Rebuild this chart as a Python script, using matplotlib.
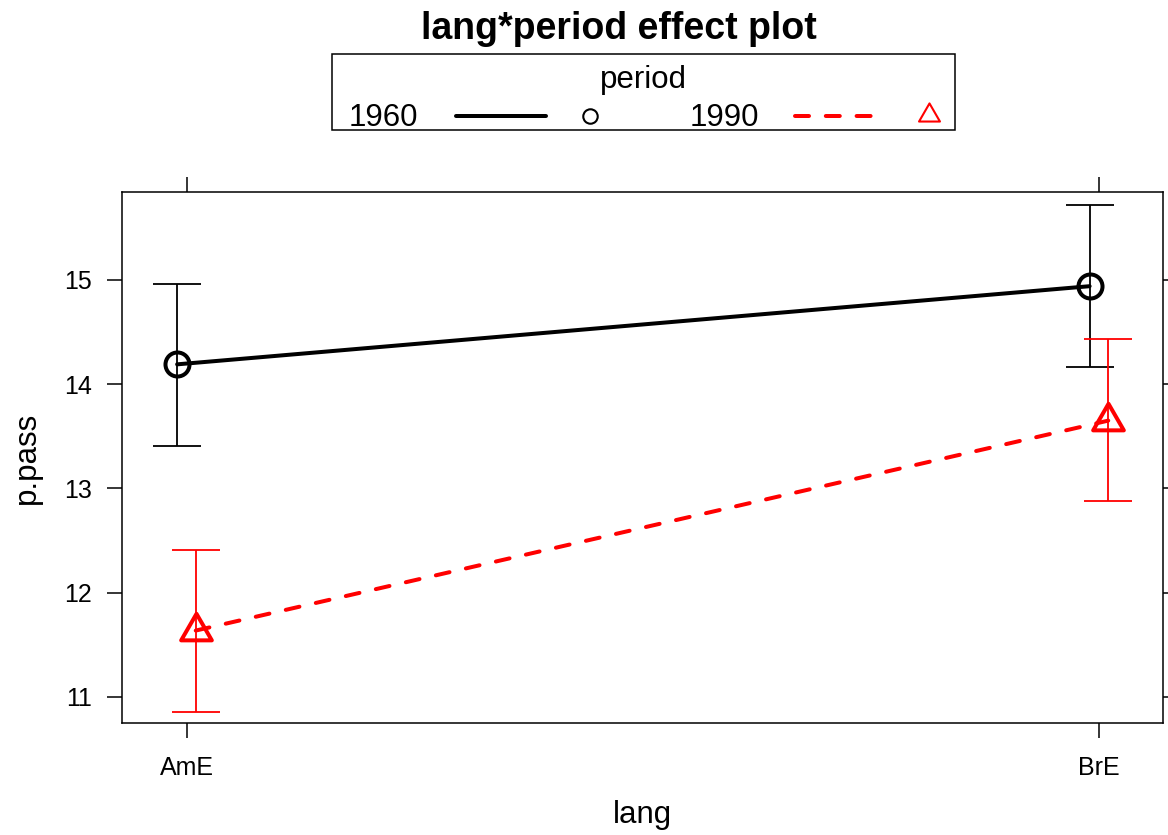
import matplotlib
matplotlib.use('Agg')
import matplotlib.pyplot as plt
from matplotlib.path import Path
import numpy as np

plt.rcParams['font.family'] = ['Liberation Sans', 'DejaVu Sans']

# ---- data ----
langs = ['AmE', 'BrE']
periods = ['1960', '1990']
fit_1960 = [14.19, 14.94]
lower_1960 = [13.41, 14.16]
upper_1960 = [14.965, 15.72]
fit_1990 = [11.635, 13.65]
lower_1990 = [10.857, 12.875]
upper_1990 = [12.41, 14.43]
yticks = [11, 12, 13, 14, 15]
title = 'lang*period effect plot'
xlabel = 'lang'
ylabel = 'p.pass'
legend_title = 'period'

W, H = 1168, 835
fig = plt.figure(figsize=(W / 100, H / 100), dpi=100)
ax = fig.add_axes([122 / W, 1 - 723 / H, (1163 - 122) / W, (723 - 192) / H])

tri = Path([(0, 1), (-0.866, -0.5), (0.866, -0.5), (0, 1)],
           [Path.MOVETO, Path.LINETO, Path.LINETO, Path.CLOSEPOLY])

LW = 2.88
DASH = (0, (3.5, 4.2))
xpos = np.arange(1, len(langs) + 1)
series = [
    (fit_1960, lower_1960, upper_1960, 'black', '-', 'o', 17.3, -0.0103),
    (fit_1990, lower_1990, upper_1990, '#FF0000', DASH, tri, 25.5, 0.0101),
]
for fit, lo, up, col, ls, mk, ms, off in series:
    fit = np.array(fit); lo = np.array(lo); up = np.array(up)
    x = xpos + off
    ax.errorbar(x, fit, yerr=[fit - lo, up - fit], fmt='none', ecolor=col,
                elinewidth=1.3, capsize=17.6, capthick=1.3, zorder=2)
    ax.plot(x, fit, color=col, lw=LW, ls=ls, dash_capstyle='round',
            solid_capstyle='round', zorder=3)
    ax.plot(x, fit, ls='none', marker=mk, ms=ms, mfc='none', mec=col,
            mew=LW, zorder=4)

ax.set_xlim(0.9293, 2.0701)
ax.set_ylim(10.748, 15.844)
ax.set_xticks(xpos)
ax.set_xticklabels(langs)
ax.set_yticks(yticks)
ax.set_yticklabels([str(t) for t in yticks])
ax.tick_params(direction='out', length=10.8, width=1.1, top=True, right=True,
               labeltop=False, labelright=False, labelsize=18, colors='black')
ax.tick_params(axis='y', pad=10.8)
ax.tick_params(axis='x', pad=13)
for s in ax.spines.values():
    s.set_linewidth(1.1)

# labels & title
fig.text(642.5 / W, 1 - 815 / H, xlabel, ha='center', va='center', fontsize=22.5)
fig.text(26.5 / W, 1 - 457.5 / H, ylabel, ha='center', va='center',
         rotation=90, fontsize=22.5)
fig.text(619 / W, 1 - 39 / H, title, ha='center', va='baseline',
         fontsize=27, fontweight='bold')

# legend (drawn in pixel coordinates on an overlay)
lax = fig.add_axes([0, 0, 1, 1], zorder=5)
lax.set_xlim(0, W)
lax.set_ylim(H, 0)
lax.axis('off')
lax.add_patch(plt.Rectangle((332, 54), 955 - 332, 130 - 54, fill=False,
                            lw=1.1, ec='black'))
lax.text(643, 88, legend_title, ha='center', va='baseline', fontsize=22.5)
lax.text(349, 126, periods[0], ha='left', va='baseline', fontsize=22.5)
lax.plot([456, 546], [115.7, 115.7], color='black', lw=LW,
         solid_capstyle='round')
lax.plot([590], [115.6], ls='none', marker='o', ms=10.4, mfc='none',
         mec='black', mew=1.5)
lax.text(690, 126, periods[1], ha='left', va='baseline', fontsize=22.5)
lax.plot([795, 872], [115.7, 115.7], color='#FF0000', lw=LW,
         ls=DASH, dash_capstyle='round')
lax.plot([929], [115.4], ls='none', marker=tri, ms=17.4, mfc='none',
         mec='#FF0000', mew=1.5)

fig.savefig('out.png', dpi=100)
